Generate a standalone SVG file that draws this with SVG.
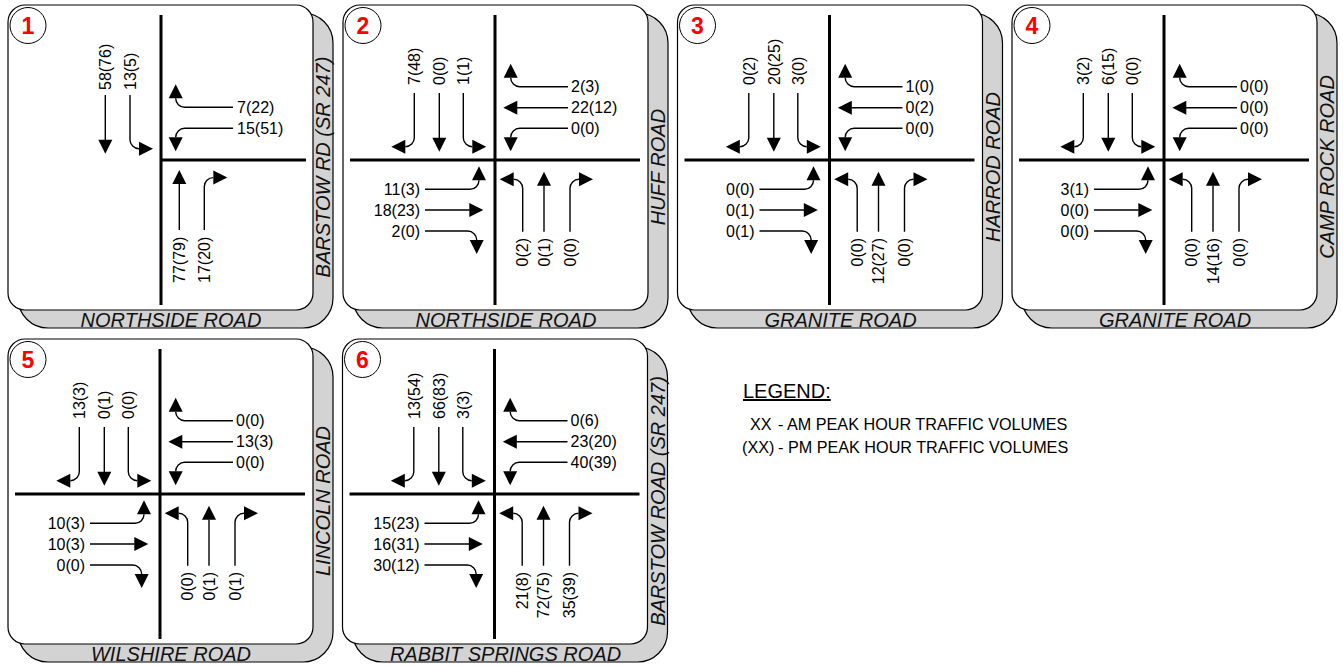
<svg xmlns="http://www.w3.org/2000/svg" xmlns:xlink="http://www.w3.org/1999/xlink" width="1343" height="666" viewBox="0 0 1343 666">
<style>
.shadow{fill:#d3d3d3;stroke:#000;stroke-width:1.2}
.box{fill:#fff;stroke:#000;stroke-width:1.2}
.road{stroke:#000;stroke-width:3;fill:none}
.arr{stroke:#000;stroke-width:1.4;fill:none}
.head{fill:#000;stroke:none}
.num{font-family:"Liberation Sans",Arial,sans-serif;font-size:16px;fill:#000}
.e{text-anchor:end}
.rname{font-family:"Liberation Sans",Arial,sans-serif;font-size:20px;font-style:italic;fill:#111;text-anchor:middle}
.badge{fill:#fff;stroke:#000;stroke-width:1}
.badgetxt{font-family:"Liberation Sans",Arial,sans-serif;font-size:23px;font-weight:bold;fill:#f00;text-anchor:middle}
.leg{font-family:"Liberation Sans",Arial,sans-serif;font-size:16.2px;fill:#000}
</style>
<defs>
<g id="sbT"><path class="arr" d="M0,0 V45"/><polygon class="head" points="-7,44.7 7,44.7 0,58.7"/></g>
<g id="sbL"><path class="arr" d="M0,0 V44.7 A9,9 0 0 1 -9,53.7"/><polygon class="head" points="-9,46.7 -9,60.7 -23,53.7"/></g>
<g id="sbR"><path class="arr" d="M0,0 V44.7 A9,9 0 0 0 9,53.7"/><polygon class="head" points="9,46.7 9,60.7 23,53.7"/></g>
<g id="wbT"><path class="arr" d="M0,0 H-51"/><polygon class="head" points="-50.7,-7 -50.7,7 -64.7,0"/></g>
<g id="wbR"><path class="arr" d="M0,0 H-48.3 A9,9 0 0 1 -57.3,-9"/><polygon class="head" points="-64.3,-9 -50.3,-9 -57.3,-23"/></g>
<g id="wbL"><path class="arr" d="M0,0 H-48.3 A9,9 0 0 0 -57.3,9"/><polygon class="head" points="-64.3,9 -50.3,9 -57.3,23"/></g>
<g id="ebT"><path class="arr" d="M0,0 H44.6"/><polygon class="head" points="44.3,-7 44.3,7 58.3,0"/></g>
<g id="ebL"><path class="arr" d="M0,0 H45 A9,9 0 0 0 54,-9"/><polygon class="head" points="47,-9 61,-9 54,-23"/></g>
<g id="ebR"><path class="arr" d="M0,0 H42.7 A9,9 0 0 1 51.7,9"/><polygon class="head" points="44.7,9 58.7,9 51.7,23"/></g>
<g id="nbT"><path class="arr" d="M0,0 V-46.3"/><polygon class="head" points="-7,-46 7,-46 0,-60"/></g>
<g id="nbL"><path class="arr" d="M0,0 V-43.4 A9,9 0 0 0 -9,-52.4"/><polygon class="head" points="-9,-45.4 -9,-59.4 -23,-52.4"/></g>
<g id="nbR"><path class="arr" d="M0,0 V-43.4 A9,9 0 0 1 9,-52.4"/><polygon class="head" points="9,-45.4 9,-59.4 23,-52.4"/></g>
<g id="frame"><rect class="shadow" x="10" y="8" width="315" height="315" rx="30"/><rect class="box" x="0" y="0" width="305" height="305" rx="17"/><circle class="badge" cx="20" cy="20.5" r="18"/></g>
<g id="roads4"><line class="road" x1="152" y1="10" x2="152" y2="300"/><line class="road" x1="7" y1="155" x2="297" y2="155"/></g>
<g id="arrows4">
<use href="#sbL" x="71.3" y="88"/><use href="#sbT" x="96.3" y="88"/><use href="#sbR" x="120.3" y="88"/>
<use href="#wbR" x="225" y="81.7"/><use href="#wbT" x="225" y="102.7"/><use href="#wbL" x="225" y="123.3"/>
<use href="#ebL" x="82" y="184.3"/><use href="#ebT" x="82" y="205"/><use href="#ebR" x="82" y="226"/>
<use href="#nbL" x="179.7" y="226.7"/><use href="#nbT" x="201" y="226.7"/><use href="#nbR" x="227" y="226.7"/>
</g>
</defs>

<g id="connectors"></g>

<!-- Panel 1 -->
<g id="panel1" transform="translate(8,5)">
<use href="#frame"/>
<text class="badgetxt" x="20" y="28.8">1</text>
<line class="road" x1="153" y1="10" x2="153" y2="300"/><line class="road" x1="153" y1="155" x2="298" y2="155"/>
<use href="#sbT" x="97.3" y="90"/><use href="#sbR" x="122" y="90"/>
<use href="#wbR" x="225" y="102.3"/><use href="#wbL" x="225" y="123.3"/>
<use href="#nbT" x="171.3" y="225"/><use href="#nbR" x="196.3" y="225"/>
<text class="num" transform="translate(103,85) rotate(-90)">58(76)</text>
<text class="num" transform="translate(127.7,85) rotate(-90)">13(5)</text>
<text class="num" x="229" y="108">7(22)</text>
<text class="num" x="229" y="129">15(51)</text>
<text class="num e" transform="translate(177,231.7) rotate(-90)">77(79)</text>
<text class="num e" transform="translate(202,231.7) rotate(-90)">17(20)</text>
<text class="rname" x="163" y="322">NORTHSIDE ROAD</text>
<text class="rname" transform="translate(322,162) rotate(-90)">BARSTOW RD (SR 247)</text>
</g>

<!-- Panel 2 -->
<g id="panel2" transform="translate(343,5)">
<use href="#frame"/>
<text class="badgetxt" x="20" y="28.8">2</text>
<use href="#roads4"/><use href="#arrows4"/>
<text class="num" transform="translate(77,80) rotate(-90)">7(48)</text>
<text class="num" transform="translate(102,80) rotate(-90)">0(0)</text>
<text class="num" transform="translate(126,80) rotate(-90)">1(1)</text>
<text class="num" x="228" y="87.4">2(3)</text>
<text class="num" x="228" y="108.4">22(12)</text>
<text class="num" x="228" y="129">0(0)</text>
<text class="num e" x="77" y="190">11(3)</text>
<text class="num e" x="77" y="210.7">18(23)</text>
<text class="num e" x="77" y="231.7">2(0)</text>
<text class="num e" transform="translate(185.4,233) rotate(-90)">0(2)</text>
<text class="num e" transform="translate(206.7,233) rotate(-90)">0(1)</text>
<text class="num e" transform="translate(232.7,233) rotate(-90)">0(0)</text>
<text class="rname" x="163" y="322">NORTHSIDE ROAD</text>
<text class="rname" transform="translate(322,162) rotate(-90)">HUFF ROAD</text>
</g>

<!-- Panel 3 -->
<g id="panel3" transform="translate(677.5,5)">
<use href="#frame"/>
<text class="badgetxt" x="20" y="28.8">3</text>
<use href="#roads4"/><use href="#arrows4"/>
<text class="num" transform="translate(77,80) rotate(-90)">0(2)</text>
<text class="num" transform="translate(102,80) rotate(-90)">20(25)</text>
<text class="num" transform="translate(126,80) rotate(-90)">3(0)</text>
<text class="num" x="228" y="87.4">1(0)</text>
<text class="num" x="228" y="108.4">0(2)</text>
<text class="num" x="228" y="129">0(0)</text>
<text class="num e" x="77" y="190">0(0)</text>
<text class="num e" x="77" y="210.7">0(1)</text>
<text class="num e" x="77" y="231.7">0(1)</text>
<text class="num e" transform="translate(185.4,233) rotate(-90)">0(0)</text>
<text class="num e" transform="translate(206.7,233) rotate(-90)">12(27)</text>
<text class="num e" transform="translate(232.7,233) rotate(-90)">0(0)</text>
<text class="rname" x="163" y="322">GRANITE ROAD</text>
<text class="rname" transform="translate(322,162) rotate(-90)">HARROD ROAD</text>
</g>

<!-- Panel 4 -->
<g id="panel4" transform="translate(1012,5)">
<use href="#frame"/>
<text class="badgetxt" x="20" y="28.8">4</text>
<use href="#roads4"/><use href="#arrows4"/>
<text class="num" transform="translate(77,80) rotate(-90)">3(2)</text>
<text class="num" transform="translate(102,80) rotate(-90)">6(15)</text>
<text class="num" transform="translate(126,80) rotate(-90)">0(0)</text>
<text class="num" x="228" y="87.4">0(0)</text>
<text class="num" x="228" y="108.4">0(0)</text>
<text class="num" x="228" y="129">0(0)</text>
<text class="num e" x="77" y="190">3(1)</text>
<text class="num e" x="77" y="210.7">0(0)</text>
<text class="num e" x="77" y="231.7">0(0)</text>
<text class="num e" transform="translate(185.4,233) rotate(-90)">0(0)</text>
<text class="num e" transform="translate(206.7,233) rotate(-90)">14(16)</text>
<text class="num e" transform="translate(232.7,233) rotate(-90)">0(0)</text>
<text class="rname" x="163" y="322">GRANITE ROAD</text>
<text class="rname" transform="translate(322,162) rotate(-90)">CAMP ROCK ROAD</text>
</g>

<!-- Panel 5 -->
<g id="panel5" transform="translate(8,339)">
<use href="#frame"/>
<text class="badgetxt" x="20" y="28.8">5</text>
<use href="#roads4"/><use href="#arrows4"/>
<text class="num" transform="translate(77,80) rotate(-90)">13(3)</text>
<text class="num" transform="translate(102,80) rotate(-90)">0(1)</text>
<text class="num" transform="translate(126,80) rotate(-90)">0(0)</text>
<text class="num" x="228" y="87.4">0(0)</text>
<text class="num" x="228" y="108.4">13(3)</text>
<text class="num" x="228" y="129">0(0)</text>
<text class="num e" x="77" y="190">10(3)</text>
<text class="num e" x="77" y="210.7">10(3)</text>
<text class="num e" x="77" y="231.7">0(0)</text>
<text class="num e" transform="translate(185.4,233) rotate(-90)">0(0)</text>
<text class="num e" transform="translate(206.7,233) rotate(-90)">0(1)</text>
<text class="num e" transform="translate(232.7,233) rotate(-90)">0(1)</text>
<text class="rname" x="163" y="322">WILSHIRE ROAD</text>
<text class="rname" transform="translate(322,162) rotate(-90)">LINCOLN ROAD</text>
</g>

<!-- Panel 6 -->
<g id="panel6" transform="translate(342.5,339)">
<use href="#frame"/>
<text class="badgetxt" x="20" y="28.8">6</text>
<use href="#roads4"/><use href="#arrows4"/>
<text class="num" transform="translate(77,80) rotate(-90)">13(54)</text>
<text class="num" transform="translate(102,80) rotate(-90)">66(83)</text>
<text class="num" transform="translate(126,80) rotate(-90)">3(3)</text>
<text class="num" x="228" y="87.4">0(6)</text>
<text class="num" x="228" y="108.4">23(20)</text>
<text class="num" x="228" y="129">40(39)</text>
<text class="num e" x="77" y="190">15(23)</text>
<text class="num e" x="77" y="210.7">16(31)</text>
<text class="num e" x="77" y="231.7">30(12)</text>
<text class="num e" transform="translate(185.4,233) rotate(-90)">21(8)</text>
<text class="num e" transform="translate(206.7,233) rotate(-90)">72(75)</text>
<text class="num e" transform="translate(232.7,233) rotate(-90)">35(39)</text>
<text class="rname" x="163" y="322">RABBIT SPRINGS ROAD</text>
<text class="rname" transform="translate(322,162) rotate(-90)">BARSTOW ROAD (SR 247)</text>
</g>

<!-- Legend -->
<g id="legend">
<text class="leg" x="743" y="398" style="font-size:20px;text-decoration:underline">LEGEND:</text>
<text class="leg" x="750" y="430">XX</text>
<text class="leg" x="778" y="430">- AM PEAK HOUR TRAFFIC VOLUMES</text>
<text class="leg" x="742" y="453">(XX)</text>
<text class="leg" x="778" y="453">- PM PEAK HOUR TRAFFIC VOLUMES</text>
</g>
</svg>
